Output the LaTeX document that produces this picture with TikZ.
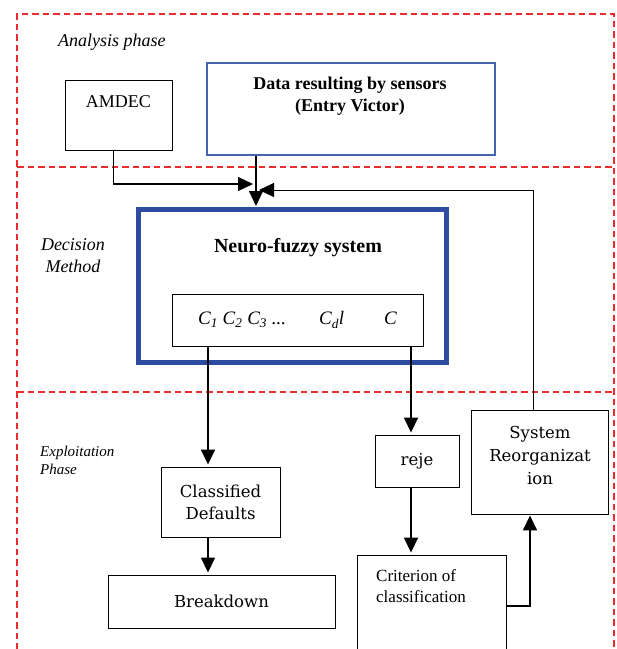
\documentclass[tikz,border=0pt]{standalone}
\usepackage{fontspec}
\setmainfont{Liberation Serif}
\newfontfamily\slabfont{DejaVu Serif}
\usetikzlibrary{arrows.meta}
\definecolor{phasered}{RGB}{235,45,45}
\definecolor{datablue}{RGB}{70,100,175}
\definecolor{nfblue}{RGB}{45,75,160}
\tikzset{>={Triangle[length=15pt,width=14pt]}}
\tikzset{
	phase/.style={draw=phasered, line width=1.3pt, dash pattern=on 6.5pt off 4pt},
	blockbox/.style={draw, line width=0.9pt, inner sep=0pt, align=center},
	link/.style={->, line width=1.6pt},
	tag/.style={font=\fontsize{18}{22}\selectfont\itshape, align=left, inner sep=0pt}
}

\begin{document}
\begin{tikzpicture}[x=1pt, y=-1pt]
	\clip (0,0) rectangle (617,649);
	% phases
	\draw[phase] (17,660) -- (17,14) -- (614,14) -- (614,660);
	\draw[phase] (17,167) -- (614,167);
	\draw[phase] (17,392) -- (614,392);
	\node[tag, anchor=west] (tanalysis) at (58,42) {Analysis phase};
	\node[tag, align=center] (tdecision) at (73,256) {Decision\\Method};
	\node[tag, anchor=west, font=\fontsize{15}{18}\selectfont\itshape] (texploit) at (40,460) {Exploitation\\Phase};

	% analysis
	\node[blockbox, minimum width=107pt, minimum height=70pt] (amdec) at (118.5,115) {};
	\node at (118.5,102) [font=\fontsize{18}{20}\selectfont] (tamdec) {AMDEC};
	\node[blockbox, draw=datablue, line width=1.1pt, minimum width=288pt, minimum height=92pt] (data) at (351,109) {};
	\node at (350,96) [font=\fontsize{18}{22}\selectfont\bfseries, align=center] (tdata) {Data resulting by sensors\\(Entry Victor)};

	% decision
	\node[blockbox, draw=nfblue, line width=5pt, minimum width=308pt, minimum height=153pt] (neuro) at (292.5,286) {};
	\node at (298,248) [font=\fontsize{20}{22}\selectfont\bfseries] (tneuro) {Neuro-fuzzy system};
	\node[blockbox, minimum width=251pt, minimum height=52pt, font=\fontsize{19}{22}\selectfont\itshape] (cls) at (297.5,320)
		{C\textsubscript{1} C\textsubscript{2} C\textsubscript{3} ...\hspace{33pt}C\textsubscript{d}l\hspace{40pt}C};

	% exploitation
	\node[blockbox, minimum width=119pt, minimum height=70pt, font=\fontsize{16.5}{22}\selectfont\slabfont] (classified) at (220.5,502) {Classified\\Defaults};
	\node[blockbox, minimum width=227pt, minimum height=53pt, font=\fontsize{16.5}{22}\selectfont\slabfont] (breakdown) at (221.5,601.5) {Breakdown};
	\node[blockbox, minimum width=84pt, minimum height=52pt, font=\fontsize{16.5}{22}\selectfont\slabfont] (reje) at (417,461) {reje};
	\node[blockbox, minimum width=137pt, minimum height=104pt] (reorg) at (539.5,462) {};
	\node at (540,455) [font=\fontsize{16.5}{23}\selectfont\slabfont, align=center] (treorg) {System\\Reorganizat\\ion};
	\node[blockbox, minimum width=149pt, minimum height=115pt] (criterion) at (431.5,612.5) {};
	\node at (376,586) [anchor=west, font=\fontsize{17}{21}\selectfont, align=left, inner sep=0pt] (tcriterion) {Criterion of\\classification};

	% links
	\coordinate (hub) at (256,188);
	\coordinate (hubL) at (253,184);
	\coordinate (hubR) at (259,190);
	\coordinate (ret) at (533,190);
	\coordinate (laneL) at (208,0);
	\coordinate (laneR) at (411,0);
	\draw[->, line width=1.2pt] ([xshift=-5pt]amdec.south) |- (hubL);
	\draw[->, line width=1.2pt, shorten >=1pt] (data.south -| hub) -- (neuro.north -| hub);
	\draw[->, line width=1pt] (reorg.north -| ret) -- (ret) -- (hubR);
	\draw[link, shorten >=2pt] (cls.south -| laneL) -- (classified.north -| laneL);
	\draw[link, shorten >=2pt] (classified.south -| laneL) -- (breakdown.north -| laneL);
	\draw[link, shorten >=2pt] (cls.south -| laneR) -- (reje.north -| laneR);
	\draw[link, shorten >=2pt] (reje.south -| laneR) -- (criterion.north -| laneR);
	\draw[link, shorten >=1pt] ([yshift=6.5pt]criterion.east) -| ([xshift=-9.5pt]reorg.south);
\end{tikzpicture}
\end{document}
